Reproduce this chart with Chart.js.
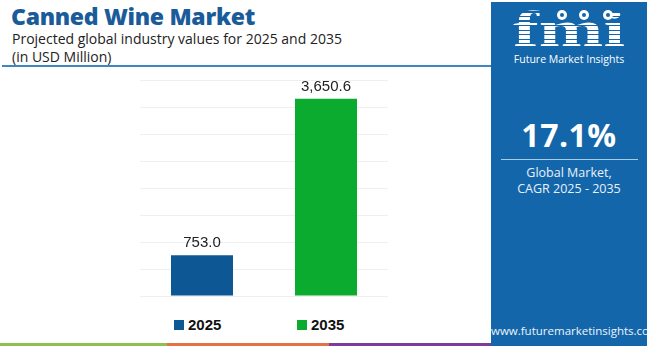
<!DOCTYPE html>
<html>
<head>
<meta charset="utf-8">
<script src="https://cdn.jsdelivr.net/npm/chart.js@4.4.1/dist/chart.umd.min.js"></script>
<style>
  html, body { margin: 0; padding: 0; }
  body { width: 650px; height: 346px; position: relative; overflow: hidden; background: #fff; font-family: "Open Sans", sans-serif; }
  .title { position: absolute; left: 11px; top: 0px; font-size: 23px; font-weight: 800; color: #1a5c99; letter-spacing: -0.3px; white-space: nowrap; }
  .sub { position: absolute; left: 12px; font-size: 14px; color: #222; white-space: nowrap; }
  .rule { position: absolute; left: 2px; top: 65px; width: 489px; height: 2px; background: #3f86c4; }
  #wrap { position: absolute; left: 0; top: 70px; width: 490px; height: 240px; }
  .legend { position: absolute; top: 316px; font: bold 15px "Liberation Sans", Arial, sans-serif; color: #111; white-space: nowrap; }
  .legend i { display: inline-block; width: 10px; height: 10px; margin-right: 4px; vertical-align: 0px; }
  .strip { position: absolute; top: 343px; height: 3px; }
  .panel { position: absolute; left: 491px; top: 2px; width: 156px; height: 344px; background: #1466aa; color: #fff; text-align: center; }
  .logo { position: absolute; left: 0; width: 156px; top: 2px; font: bold 50px "Liberation Serif", serif; line-height: 50px;
          transform: scaleX(1.55); transform-origin: 78px 0;
          background: repeating-linear-gradient(#fff 0 3px, #1466aa 3px 4.5px); -webkit-background-clip: text; background-clip: text; color: transparent; }
  .dot { position: absolute; top: 8px; width: 10px; height: 10px; border-radius: 50%; background: #fff; }
  .dot b { position: absolute; left: 3px; top: 3px; width: 4px; height: 4px; border-radius: 50%; background: #1466aa; }
  .fmi-name { position: absolute; top: 50px; width: 156px; font-size: 10.5px; color: #fff; }
  .cagr { position: absolute; top: 111px; width: 156px; font-size: 32px; font-weight: 700; letter-spacing: 0.5px; }
  .line { position: absolute; left: 10px; top: 157px; width: 137px; height: 1px; background: #a9cbea; }
  .desc { position: absolute; top: 163px; width: 156px; font-size: 12.5px; line-height: 16px; color: #e8f1fa; }
  .url { position: absolute; top: 321px; width: 156px; font-size: 11.5px; color: #eef4fa; }
</style>
</head>
<body>
<div class="title">Canned Wine Market</div>
<div class="sub" style="top:29px">Projected global industry values for 2025 and 2035</div>
<div class="sub" style="top:47px">(in USD Million)</div>
<div class="rule"></div>

<div id="wrap"><canvas id="grafico"></canvas></div>
<div id="leyenda"></div>

<div class="strip" style="left:0;width:167px;background:#8cc152"></div>
<div class="strip" style="left:167px;width:162px;background:#e57245"></div>
<div class="strip" style="left:329px;width:162px;background:#7d3c98"></div>

<div class="panel">
  <div class="logo">fmi</div>
  <div class="dot" style="left:66px"><b></b></div>
  <div class="dot" style="left:88px"><b></b></div>
  <div class="dot" style="left:112px"><b></b></div>
  <div class="fmi-name">Future Market Insights</div>
  <div class="cagr">17.1%</div>
  <div class="line"></div>
  <div class="desc">Global Market,<br>CAGR 2025 - 2035</div>
  <div class="url">www.futuremarketinsights.com</div>
</div>

<script>
// años y valores (USD millones)
const anios = ['2025', '2035'];
const valores = [753.0, 3650.6];
const colores = ['#0d5794', '#0aab2e'];
const etiquetas = ['753.0', '3,650.6'];
const ticksY = [0, 500, 1000, 1500, 2000, 2500, 3000, 3500, 4000];

// leyenda debajo del gráfico
const posLeyenda = [174, 297];
const leyenda = document.getElementById('leyenda');
anios.forEach((a, i) => {
    const d = document.createElement('div');
    d.className = 'legend';
    d.style.left = posLeyenda[i] + 'px';
    d.innerHTML = `<i style="background:${colores[i]}"></i>${a}`;
    leyenda.appendChild(d);
});

// escribe el valor encima de cada barra
const valoresBarras = {
    id: 'valoresBarras',
    afterDatasetsDraw(chart) {
        const ctx = chart.ctx;
        const meta = chart.getDatasetMeta(0);
        ctx.save();
        ctx.font = '15px "Liberation Sans", Arial, sans-serif';
        ctx.fillStyle = '#222';
        ctx.textAlign = 'center';
        ctx.textBaseline = 'alphabetic';
        meta.data.forEach((bar, i) => {
            ctx.fillText(etiquetas[i], bar.x, bar.y - 8);
        });
        ctx.restore();
    }
};

const ctx = document.getElementById('grafico').getContext('2d');
new Chart(ctx, {
    type: 'bar',
    data: {
        labels: anios,
        datasets: [{
            data: valores,
            backgroundColor: colores,
            borderWidth: 0,
            categoryPercentage: 1,
            barPercentage: 0.5
        }]
    },
    options: {
        responsive: true,
        maintainAspectRatio: false,
        animation: false,
        layout: { padding: { left: 140, right: 102, top: 10, bottom: 14 } },
        plugins: {
            legend: { display: false },
            tooltip: { enabled: false }
        },
        scales: {
            x: { display: false },
            y: {
                min: 0,
                max: ticksY[ticksY.length - 1],
                afterBuildTicks(scale) { scale.ticks = ticksY.map(v => ({ value: v })); },
                ticks: { display: false },
                border: { display: false },
                grid: { color: '#efefef', lineWidth: 1, drawTicks: false }
            }
        }
    },
    plugins: [valoresBarras]
});
</script>
</body>
</html>
